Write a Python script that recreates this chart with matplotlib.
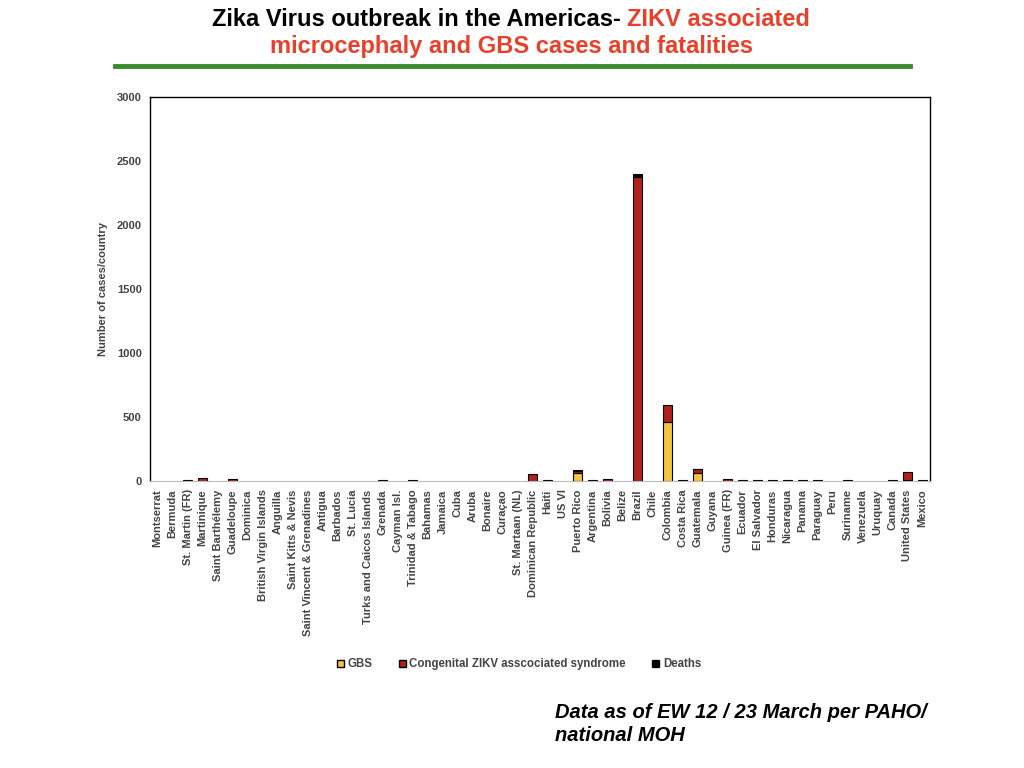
import numpy as np
from matplotlib import pyplot as plt
from matplotlib.patches import Patch
from matplotlib.lines import Line2D

plt.rcParams['font.family'] = ['Liberation Sans', 'DejaVu Sans']

countries = [
    "Montserrat", "Bermuda", "St. Martin (FR)", "Martinique", "Saint Barthélemy",
    "Guadeloupe", "Dominica", "British Virgin Islands", "Anguilla", "Saint Kitts & Nevis",
    "Saint Vincent & Grenadines", "Antigua", "Barbados", "St. Lucia",
    "Turks and Caicos Islands", "Grenada", "Cayman Isl.", "Trinidad & Tabago",
    "Bahamas", "Jamaica", "Cuba", "Aruba", "Bonaire", "Curaçao", "St. Martaan (NL)",
    "Dominican Republic", "Haiti", "US VI", "Puerto Rico", "Argentina", "Bolivia",
    "Belize", "Brazil", "Chile", "Colombia", "Costa Rica", "Guatemala", "Guyana",
    "Guinea (FR)", "Ecuador", "El Salvador", "Honduras", "Nicaragua", "Panama",
    "Paraguay", "Peru", "Suriname", "Venezuela", "Uruquay", "Canada",
    "United States", "Mexico",
]
gbs = [
    0, 0, 0, 0, 0, 0, 0, 0, 0, 0, 0, 0, 0, 0, 0, 0, 0, 0, 0, 0, 0, 0, 0, 0, 0,
    0, 0, 0, 60, 0, 0, 0, 0, 0, 460, 0, 65, 0, 0, 0, 0, 0, 0, 0, 0, 0, 0, 0, 0,
    0, 5, 0,
]
congenital = [
    0, 0, 0, 25, 0, 18, 0, 0, 0, 0, 0, 0, 0, 0, 0, 0, 0, 0, 0, 0, 0, 0, 0, 0, 0,
    58, 0, 0, 18, 0, 12, 0, 2375, 0, 132, 0, 28, 0, 12, 0, 0, 0, 0, 0, 0, 0, 0, 0,
    0, 0, 65, 0,
]
deaths = [
    0, 0, 5, 0, 0, 0, 0, 0, 0, 0, 0, 0, 0, 0, 0, 5, 0, 5, 0, 0, 0, 0, 0, 0, 0,
    0, 5, 0, 7, 5, 0, 0, 25, 0, 0, 5, 4, 0, 0, 5, 5, 5, 5, 5, 5, 0, 10, 0, 0, 5,
    0, 5,
]

gbs = np.array(gbs)
congenital = np.array(congenital)
deaths = np.array(deaths)
x = np.arange(len(countries))

fig = plt.figure(figsize=(10.24, 7.68), dpi=100)
ax = fig.add_axes([0.1465, 0.3737, 0.7617, 0.5])

yellow = '#f4c542'
red = '#b0221b'
w = 0.55


def stacked(values, bottom, color):
    # skip empty segments so no edge lines get drawn on the baseline
    m = values > 0
    ax.bar(x[m], values[m], width=w, bottom=bottom[m], color=color,
           edgecolor='black', linewidth=0.8)


stacked(gbs, np.zeros_like(gbs), yellow)
stacked(congenital, gbs, red)
stacked(deaths, gbs + congenital, 'black')

ax.set_xlim(-0.5, len(countries) - 0.5)
ax.set_ylim(0, 3000)
ax.set_yticks(range(0, 3001, 500))
ax.set_xticks(x)
ax.set_xticklabels(countries, rotation=90, fontsize=8, fontweight='bold', color='#444444')
for lab in ax.get_yticklabels():
    lab.set_fontsize(8)
    lab.set_fontweight('bold')
    lab.set_color('#444444')
ax.tick_params(axis='both', length=0, pad=6)
ax.set_ylabel('Number of cases/country', fontsize=8, fontweight='bold', color='#444444', labelpad=6)
for side in ['left', 'top', 'right']:
    ax.spines[side].set_linewidth(1.0)
ax.spines['bottom'].set_color('#bbbbbb')

handles = [
    Patch(facecolor=yellow, edgecolor='black', label='GBS'),
    Patch(facecolor=red, edgecolor='black', label='Congenital ZIKV asscociated syndrome'),
    Patch(facecolor='black', edgecolor='black', label='Deaths'),
]
leg = fig.legend(handles=handles, loc='center', bbox_to_anchor=(0.507, 0.135), ncol=3,
                 frameon=False, handlelength=0.6, handleheight=0.6, handletextpad=0.3,
                 columnspacing=2.3, prop={'size': 8.3, 'weight': 'bold'})
for t in leg.get_texts():
    t.set_color('#444444')

# title: black part, then red part glued right after it
t1 = fig.text(0.207, 0.975, 'Zika Virus outbreak in the Americas- ', fontsize=17,
              fontweight='bold', color='black', va='center', ha='left')
fig.canvas.draw()
bb = t1.get_window_extent()
fig.text(bb.x1 / fig.bbox.width, 0.975, 'ZIKV associated', fontsize=17, fontweight='bold',
         color='#e8402a', va='center', ha='left')
fig.text(0.5, 0.939, 'microcephaly and GBS cases and fatalities', fontsize=17, fontweight='bold',
         color='#e8402a', va='center', ha='center')
fig.add_artist(Line2D([0.112, 0.889], [0.914, 0.914], color='#3a8a2e', linewidth=3.5))

fig.text(0.542, 0.057, 'Data as of EW 12 / 23 March per PAHO/\nnational MOH', fontsize=14.5,
         fontweight='bold', style='italic', va='center', ha='left', linespacing=1.3)

fig.savefig('out.png', dpi=100)
